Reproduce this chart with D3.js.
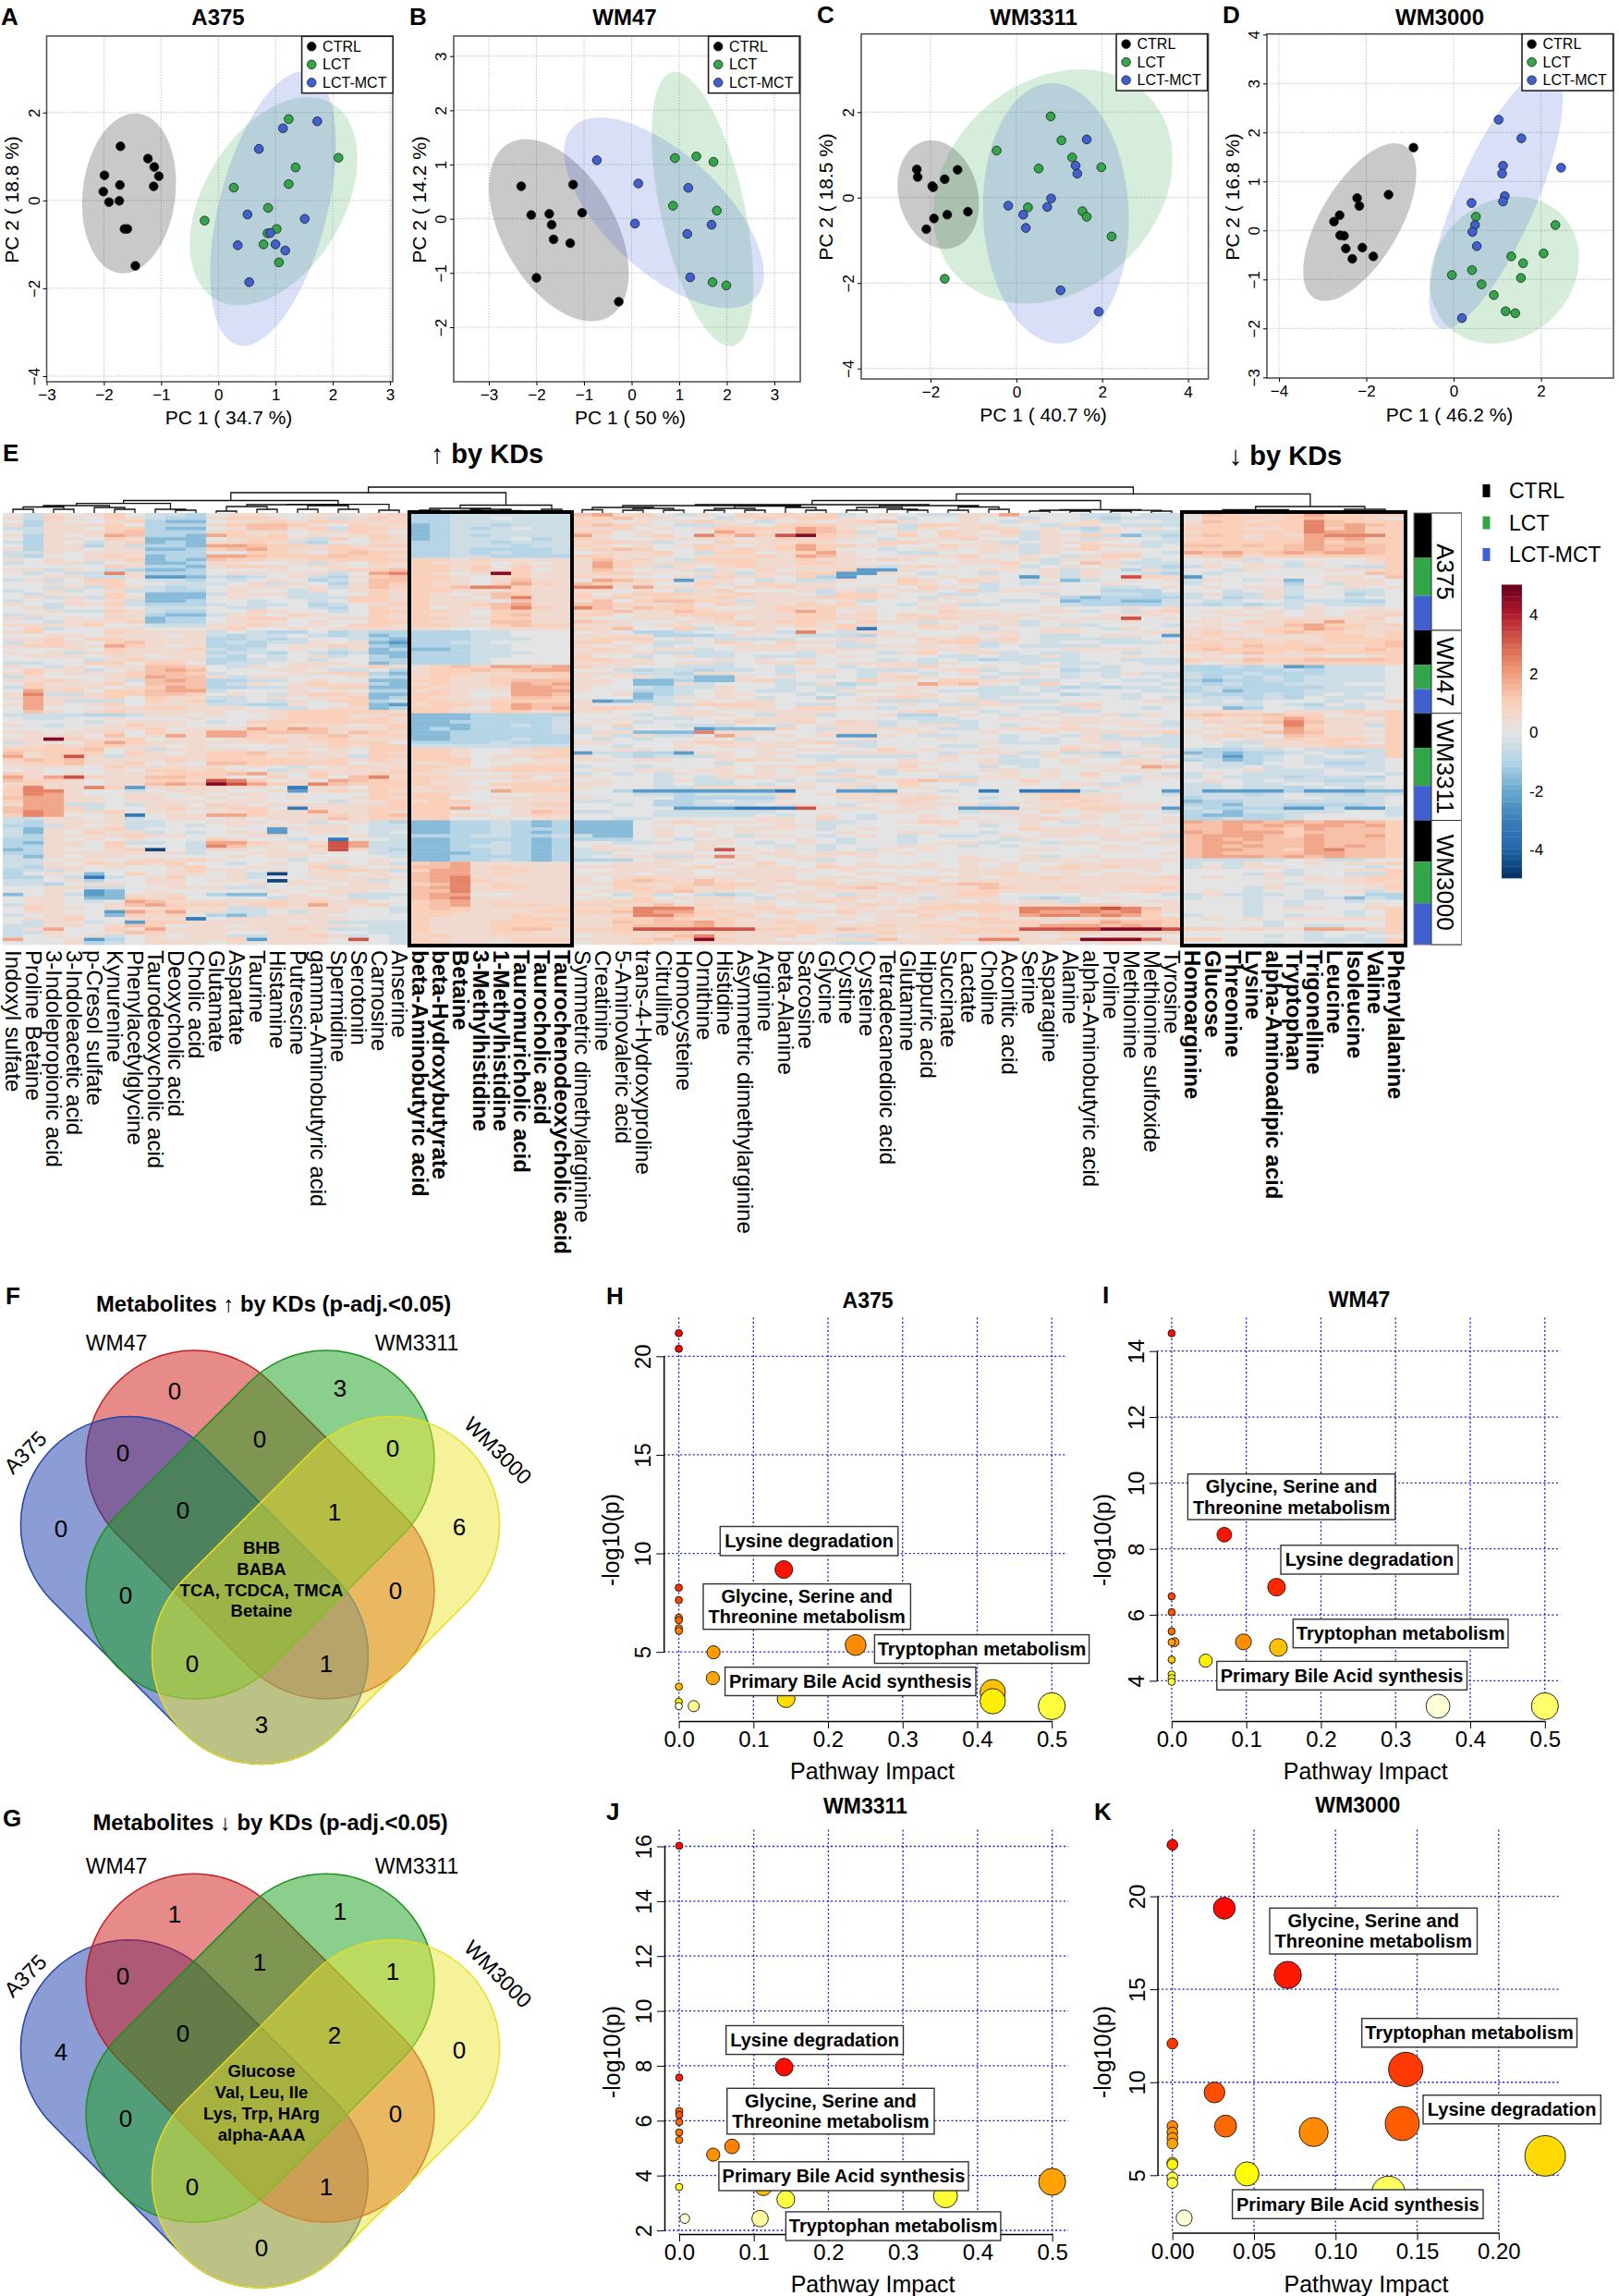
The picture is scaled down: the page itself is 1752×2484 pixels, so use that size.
<!DOCTYPE html>
<html>
<head>
<meta charset="utf-8">
<script src="https://cdn.jsdelivr.net/npm/d3@7"></script>
<style>
  html, body { margin: 0; padding: 0; background: #fff; }
  svg text { font-family: "Liberation Sans", Arial, sans-serif; fill: #000; }
</style>
</head>
<body>
<svg id="fig" width="1752" height="2484"></svg>
<script>
// ---------- PCA data (panel A-D)
var ctrlA = [[-1.71,1.23],[-1.23,.95],[-1.12,.76],[-1.04,.55],[-1.99,.57],[-1.72,.35],[-1.13,.32],[-2.01,.2],[-1.91,-.04],[-1.73,-.01],[-1.64,-.65],[-1.59,-.65],[-1.45,-1.49]];
var lctA = [[1.23,1.85],[2.1,.97],[1.35,.75],[1.23,.37],[.27,.29],[.87,-.17],[-.24,-.46],[1.02,-.65],[.86,-.75],[.79,-1],[1.06,-1.41]];
var mctA = [[1.73,1.8],[1.13,1.64],[.71,1.17],[.51,-.32],[1.51,-.42],[.91,-.74],[.34,-1.02],[1,-1],[1.17,-1.14],[.54,-1.86]];
var ctrlB = [[-2.32,.6],[-1.23,.63],[-2.11,.07],[-1.73,.09],[-1.04,.11],[-1.68,-.11],[-1.64,-.38],[-1.29,-.45],[-2,-1.09],[-.27,-1.53]];
var lctB = [[.91,1.12],[1.36,1.15],[1.72,1.05],[.87,.24],[1.79,.15],[1.7,-1.17],[1.99,-1.23]];
var mctB = [[-.73,1.08],[.14,.65],[1.19,.57],[.07,-.09],[1.68,-.11],[1.17,-.28],[1.23,-1.08]];
var ctrlC = [[-2.32,.66],[-2.3,.48],[-1.37,.65],[-1.67,.43],[-1.96,.27],[-1.94,.24],[-1.61,-.4],[-1.13,-.33],[-1.92,-.49],[-2.1,-.74]];
var lctC = [[.8,1.9],[1.05,1.34],[-.46,1.1],[1.3,.94],[.52,.68],[1.98,.71],[.27,-.23],[1.54,-.32],[1.64,-.45],[2.22,-.91],[-1.67,-1.9]];
var mctC = [[1.64,1.36],[1.38,.75],[1.42,.56],[.81,-.02],[-.19,-.19],[.72,-.22],[.16,-.4],[.22,-.71],[1.03,-2.17],[1.92,-2.67]];
var ctrlD = [[-.92,1.69],[-1.49,.73],[-2.21,.66],[-2.16,.5],[-2.61,.31],[-2.74,.18],[-2.6,-.1],[-2.51,-.11],[-2.47,-.37],[-2.09,-.35],[-1.84,-.53],[-2.32,-.58]];
var lctD = [[.51,.28],[2.33,.11],[2.06,-.47],[1.32,-.53],[1.59,-.67],[.42,-.81],[-.04,-.91],[1.54,-.97],[.64,-1.1],[.92,-1.32],[1.19,-1.65],[1.41,-1.69]];
var mctD = [[1.03,2.26],[1.55,1.88],[1.13,1.32],[1.11,1.16],[2.46,1.28],[1.17,.7],[1.13,.59],[.41,.56],[.49,.11],[.43,-.03],[.53,-.32],[.19,-1.79]];
// confidence ellipses: cx, cy, sd x, sd y, correlation
var ellA = [[-1.56,.16,.82,1.82,.13],[.966,-.02,1.464,2.369,.41],[.956,-.19,1.1,3.12,.47]];
var ellB = [[-1.53,-.21,1.47,1.68,-.47],[1.49,.18,1.07,2.53,-.54],[.68,.11,2.1,1.76,-.64]];
var ellC = [[-1.82,.07,.95,1.27,-.17],[.85,.26,2.79,2.74,.23],[.92,-.37,1.7,3.05,-.05]];
var ellD = [[-2.15,.17,1.295,1.61,.62],[1.16,-.81,1.71,1.5,.16],[.97,.64,1.53,2.65,.77]];
var groupNames = ["CTRL","LCT","LCT-MCT"];

// ---------- heatmap
var metabolites = ["Indoxyl sulfate","Proline Betaine","3-Indolepropionic acid","3-Indoleacetic acid","p-Cresol sulfate","Kynurenine","Phenylacetylglycine","Taurodeoxycholic acid","Deoxycholic acid","Cholic acid","Glutamate","Aspartate","Taurine","Histamine","Putrescine","gamma-Aminobutyric acid","Spermidine","Serotonin","Carnosine","Anserine",
"beta-Aminobutyric acid","beta-Hydroxybutyrate","Betaine","3-Methylhistidine","1-Methylhistidine","Tauromuricholic acid","Taurocholic acid","Taurochenodeoxycholic acid",
"Symmetric dimethylarginine","Creatinine","5-Aminovaleric acid","trans-4-Hydroxyproline","Citrulline","Homocysteine","Ornithine","Histidine","Asymmetric dimethylarginine","Arginine","beta-Alanine","Sarcosine","Glycine","Cystine","Cysteine","Tetradecanedioic acid","Glutamine","Hippuric acid","Succinate","Lactate","Choline","Aconitic acid","Serine","Asparagine","Alanine","alpha-Aminobutyric acid","Proline","Methionine","Methionine sulfoxide","Tyrosine",
"Homoarginine","Glucose","Threonine","Lysine","alpha-Aminoadipic acid","Tryptophan","Trigonelline","Leucine","Isoleucine","Valine","Phenylalanine"];
var boldUp = [20,27], boldDown = [58,68];
var cellLines = ["A375","WM47","WM3311","WM3000"];
var cellLineCounts = [[13,11,10],[10,7,7],[10,11,10],[12,12,12]];
// each row is one sample, one character per metabolite, four column zones split by |
var levelValues = {"0":-4.6,"1":-3.2,"2":-2.3,"3":-1.6,"4":-1,"5":-.5,"6":0,"7":.5,"8":1,"9":1.3,"a":1.8,"b":2.4,"c":3.2,"d":4.6};
var heatRows = [
"65767 86554 67766 77678|4455 5555|9a786 57687 87856 76557 7a666 55655|79878 8a8888",
"75876 87544 78876 75787|4455 6555|78977 66578 78876 65667 66566 54555|68887 89887",
"64766 78433 67787 88778|4455 5555|87676 78765 67678 97667 65766 75665|79878 8b9888",
"74777 86444 78998 76877|3455 4555|89876 55776 88877 65887 76657 76555|78888 8b9a98",
"55776 88433 67997 85887|3454 5655|77867 67888 8a976 75767 87675 47676|88877 8b8a88",
"65777 89444 78776 77876|3455 5555|88676 66a87 7a985 67687 68576 57655|78888 8baa88",
"74767 a9443 a8786 76787|3454 5555|a7678 6b8a8 cd877 68687 77577 85354|89878 7abbb8",
"64776 87333 67887 58687|3455 5645|87667 77767 87876 56778 66576 57665|78878 8a9a88",
"54765 78343 77875 46677|4455 4555|78875 66877 78766 88766 75677 76655|88888 8a8988",
"64774 75443 aa988 78788|4455 5455|87676 78767 8a887 76687 77576 87756|99898 9a9998",
"74776 77334 89a87 78877|4454 4445|78986 68787 8a866 56776 77577 86666|88888 9a9a98",
"55767 77444 66887 68988|4454 5445|67778 65886 78a76 65566 76576 67765|a9a89 a9aa98",
"54667 87344 aa988 89887|4455 4444|88777 67778 7a976 67778 66765 78866|78978 888888",
"76767 78343 98877 88888|8878 7777|79786 58887 78777 87667 76757 77656|66756 666678",
"56775 67334 77667 57687|8777 6767|7a877 77887 78876 66667 78656 97555|67676 576678",
"66666 87443 78876 77677|8878 6877|7a875 76787 77777 57876 67567 67654|57677 576558",
"77576 54334 66676 67889|8878 7867|79767 75768 67782 27666 77675 76475|66576 667778",
"65655 b7444 67767 756ab|8767 d877|78876 67757 78822 76566 56675 76654|65666 666698",
"66775 57223 54567 54789|8876 7877|87766 75877 68426 67676 76275 76c87|26666 667769",
"57568 86554 65676 45699|8876 7977|6a987 27765 65576 68768 76563 56767|57657 367776",
"66767 86655 56757 64798|8776 8a87|98776 68768 77766 68767 56576 67666|56666 465776",
"66575 87545 67776 75798|889b b877|bb7a7 77687 87767 76876 56666 65567|67677 576767",
"56756 75544 67665 76787|8877 7877|77676 57866 67575 67768 57776 64446|66567 566556",
"65766 86333 57775 56687|8767 9877|86788 87787 76588 76655 66656 65545|57557 566456",
"67575 87333 67665 55887|8776 9b77|87878 77877 77888 76576 66674 34444|56457 466566",
"56676 75334 66566 56887|8777 6977|79689 98757 77675 66767 65563 44335|65566 555446",
"76577 85444 56556 45678|8778 9a77|99877 86877 78786 65675 56665 44445|54545 565556",
"67566 76555 65566 54687|8677 9b87|b9798 87667 87877 66776 66676 66767|66676 576676",
"66755 87544 66876 65688|8876 8877|78977 98777 8a867 66687 76677 56578|67767 676777",
"57666 77433 57768 76687|8776 8977|88677 88877 78878 68777 77766 67776|66777 676778",
"75676 87344 67886 67787|8877 8877|76677 67867 78877 67887 77676 77c67|67667 777786",
"66577 78344 67776 76688|8776 9977|98766 77787 88768 77567 67567 66766|77687 87a776",
"77778 66555 77876 76887|8877 8988|77767 76787 78787 66876 77565 56665|67777 9a8878",
"68566 77666 78667 67777|7766 7777|87966 85667 67781 66776 56677 65766|77678 8a9877",
"78666 87777 56544 64544|4445 5666|67644 56677 5b657 76666 77677 66677|78778 988778",
"66776 77767 54556 54534|4445 5666|77774 44576 65554 77667 67655 67762|78767 778878",
"77868 87777 44545 66543|4445 5566|78886 76555 56677 66878 78655 55566|87887 778888",
"57876 89777 45455 76732|4455 6666|88675 56876 87757 66788 57656 65557|78787 878889",
"78877 a8767 44467 78743|4445 5666|76765 66677 76655 77767 56555 56666|88798 887789",
"66676 87778 54567 65734|3345 5666|78767 75677 77777 66777 66667 77766|89888 898898",
"76757 87777 45546 54533|4445 5566|77775 55566 65766 57867 75655 66567|77898 788888",
"67776 77677 54656 75643|4445 5666|86656 75565 55676 66655 65575 66766|67677 776678",
"66665 78777 44556 56644|4445 6666|88776 66767 67666 56565 45555 66555|87798 899998",
"55668 86886 45567 77634|4445 6666|77776 77567 78677 77576 66565 56655|76787 888888",
"76576 77998 65767 76787|7898 aa9a|87766 55566 56656 77866 76675 65666|44545 235556",
"68775 679a9 66677 65564|7889 89aa|66545 54556 57765 55678 56764 55666|44444 545556",
"78677 78998 56667 78843|7887 7888|77755 47766 56765 76567 65565 65755|54454 445556",
"57666 78a99 75776 66754|7877 8778|76775 53376 76565 78766 56765 65665|54545 455556",
"77876 759a9 44556 76633|8877 8999|77633 43378 56668 77688 77556 66556|43445 455556",
"68777 86999 45767 87743|7877 8a9a|77633 75666 55745 66a89 76586 56665|54544 555666",
"58777 678a9 44557 78833|8777 7aa9|76654 55766 56556 67766 55654 54556|45444 445556",
"6a786 889aa 56667 67644|7876 7aaa|76644 56765 56577 77655 55656 66655|45344 455556",
"7b557 88998 67657 88733|8876 6aa9|66734 56776 65656 67766 55564 56566|54445 456566",
"7a777 86877 55676 77834|8776 7998|66635 76765 66467 78767 56666 66565|55545 465556",
"6a755 56878 45657 68845|8877 8888|72345 67677 66767 55567 75556 66677|65656 665668",
"7a767 86777 55447 66832|7887 8a99|76675 58887 65566 67655 77667 86666|55556 546566",
"6a666 77887 77655 67734|8876 8a9a|78876 76777 68877 56677 66555 76656|66346 655566",
"69767 87777 76778 88887|8877 8878|77666 77667 77766 67876 56665 56666|77776 777878",
"55554 45776 76678 88778|3334 4444|66656 77765 77566 74467 65676 67576|89889 886788",
"65566 76667 66678 88787|3334 4445|66765 56677 77666 65556 67767 76666|77778 a87768",
"66665 67776 56888 88887|3344 4445|67656 66787 78687 56555 66677 77765|68789 b97778",
"76566 78776 66787 77678|3334 4545|76866 55566 56777 56775 65667 66775|66767 b87758",
"66667 77867 77a8a 97778|3434 4445|56566 62333 86577 77655 67878 76666|67787 a87768",
"77677 86877 aa899 97987|3344 4445|57733 3b777 66777 67766 76676 77778|76779 a97778",
"67776 967a7 aa877 89788|3344 4444|67575 56a76 76722 76556 65665 75765|67876 987768",
"77d87 78677 67887 88777|3344 4544|65656 67656 67667 66676 65656 75555|67677 878878",
"57668 a8777 77787 78886|4444 5444|77666 78877 77855 66666 75556 77655|66557 788768",
"77878 87767 66667 78788|5555 5555|66566 76777 76675 66655 66667 67675|66567 778888",
"88889 67577 77677 67688|8876 6788|66776 76667 67766 86766 76668 77666|54455 655558",
"97888 68767 88978 77687|8876 6778|25544 27767 76677 77657 77575 54777|34344 565458",
"a78c7 57777 88877 77588|8876 7788|76545 55767 65555 55676 65676 75565|54245 656658",
"89897 77787 88888 78787|8886 7677|77677 66787 76566 67676 75567 66776|45345 655556",
"78897 78676 99888 88677|7786 6777|66666 66566 66776 67766 75567 66877|65546 654456",
"77776 87777 76765 67877|8876 7888|56656 66767 78777 78666 56566 776a9|65565 665556",
"67666 76887 87657 77778|8777 8888|67677 67767 67656 57766 77676 67776|66675 556556",
"87676 77788 89a76 87788|7766 6777|56565 76767 67576 56676 67676 86665|57655 556665",
"a7ac8 77998 86686 869b7|8877 7867|76665 65787 76778 66655 77676 76577|56555 455546",
"98876 77887 cb867 6a988|8776 6778|67665 75566 56556 78988 66866 66566|67656 554456",
"78776 779a9 dca87 b9888|8776 8887|77665 65565 67677 68665 66767 75766|55655 665566",
"8b77b 82777 77761 77688|7877 7888|76665 57777 77675 67766 66667 67666|55655 456556",
"8bb76 65677 76672 78787|7776 a888|66422 22222 16622 26656 16111 56662|52222 422233",
"8ba76 67767 67766 66688|8876 6677|66655 45555 76777 87766 66788 77665|55545 655455",
"9aa77 67766 76767 66787|8866 7777|76666 44444 76677 67876 56688 77666|45555 665556",
"8aa77 67777 67766 65678|7886 6777|55664 45655 66667 78766 66777 87666|34455 555556",
"7aa55 65776 87677 77778|8877 7788|66564 45556 77656 67777 57678 77776|44355 444456",
"9aa85 66787 78861 77788|88a7 6777|66666 22211 1c777 67762 22777 88772|54444 225225",
"9ba77 86776 77877 a7787|8866 6798|55665 55555 66666 77665 77686 77665|45355 555665",
"8ba66 71677 aa877 78789|8877 6787|66665 55556 56765 66766 67766 76766|43344 566665",
"55776 75677 67677 79788|8866 7677|66556 66667 76865 66767 66787 76767|44544 566666",
"54777 75566 77767 56754|3344 5434|33367 87777 76556 67886 76765 66667|a9aa9 a9aa98",
"44576 75565 67676 77655|3344 5434|33366 67666 77566 66676 56766 76776|99a9a 9aa9a8",
"53777 85666 66627 77655|3344 5444|33367 66677 76567 66666 66877 77666|99a99 8a9998",
"53768 77565 67726 77656|3344 5434|33367 67676 66676 67766 56677 77677|a9aaa 899998",
"54777 78776 66776 66755|4445 5445|53367 67657 76567 65655 67677 67775|9aaa9 8a99a8",
"44767 67666 87665 61665|3344 4434|44466 56766 67656 65666 65766 67767|9a9a9 9a9998",
"43776 85565 aa877 7ca55|3344 5434|66557 67765 67656 65677 56657 76677|9aa99 9a9998",
"44776 86665 b9776 8ca55|3345 5434|67666 67666 56566 67765 65666 67666|9a9a9 9a9a98",
"34766 78065 77676 7c754|3344 5434|57766 67c76 76565 76766 66776 67766|9aa99 8ab998",
"44777 77775 66777 76655|3334 5434|55667 76667 76787 67666 66666 66667|9a999 9aa998",
"53767 76666 67677 66665|3344 4434|56775 57b76 77767 66667 66756 76666|9aaa9 a9a998",
"55677 67878 76665 67676|3344 5434|44467 76676 67566 66667 76777 67777|55555 675566",
"55768 78786 65676 77675|89a7 7777|66777 66768 66767 66767 67667 77776|56576 676778",
"54776 76678 66766 85767|99a7 8777|77777 78677 76877 77767 67678 78776|57577 666656",
"45576 66678 77676 78875|8aa7 7877|66776 76777 77676 66677 77677 76676|66666 566778",
"46763 68677 67506 77676|9aa7 8777|67767 76677 76667 76667 78767 67766|66657 566558",
"44651 56786 67566 77777|9ab7 7777|76787 77777 76776 67777 67787 77778|67667 676788",
"55674 66776 77607 67756|9ab8 7777|76898 79767 87767 67867 77777 77777|66666 677787",
"55467 76776 66767 76776|89b7 8777|77877 89887 68877 86789 97777 77777|66667 566778",
"66775 56677 75566 67776|9ab7 8877|66887 87877 76789 78777 98778 77888|66657 666678",
"66762 36766 66676 77766|99b7 7777|67788 97767 67777 77778 87777 77787|67656 656757",
"36752 37776 43367 67555|9aa6 6777|76575 65456 77657 67678 86666 76665|57555 656644",
"67763 38786 66657 76556|9ab7 7777|67686 77765 77787 76577 76545 67666|56656 655354",
"67765 6a977 77787 87866|89a7 7777|77887 67767 67876 76776 76775 66677|66656 566566",
"57766 79a88 87887 a7786|89a7 8887|88779 78777 66678 77788 87777 88767|66656 566676",
"68776 77787 75577 77665|8987 7778|778bb b7778 77677 67888 88bbb bcb97|66656 776678",
"67766 2a8a7 75565 77665|8887 7788|889ba a8877 87787 78777 87baa bab87|66656 666568",
"56776 38786 43577 76666|8877 7877|777bb 98786 76676 76876 77abb aba86|56656 566568",
"67786 67771 67777 77666|8777 7888|77889 87877 76776 77768 87776 78788|67676 777778",
"65775 62887 77776 75555|8777 8887|77989 9a877 87767 77777 88878 8a998|66665 666668",
"55776 79867 76777 77655|8777 8888|77899 9a877 78777 87887 778aa a9a98|66665 655668",
"57a66 87a77 77778 75555|8777 8997|888cc cccc8 88798 77778 88ccc cdddc|88787 7aa988",
"55766 79877 76677 76655|8777 8877|77878 87877 78777 87778 78778 87788|66666 656658",
"56767 56767 75577 87565|7877 7777|67777 9b777 86655 76776 77767 67766|66665 656566",
"a6672 46777 78277 76c65|8777 7888|77789 8d877 66778 97788 bb778 dddb7|88666 655558",
"66674 56777 67677 76665|8877 6777|67787 67777 77655 67776 76776 67767|66665 665658"
];

// dendrogram: [height above heatmap, left, right], 0 is one leaf, left to right
var tree = [28,
  [22,
    [13.5,
      [10.4,
        [8,[6.5,[4,0,0],[4,0,0]],[6,0,[4,0,0]]],
        [4,0,[3,0,0]]],
      [9.3,
        [9,[7,[2,0,0],[4,0,0]],[8,[4,0,0],[4,0,0]]],
        [3,0,0]]],
    [8.5,[5,[3,0,0],[4,[2.5,0,0],[2.5,0,0]]],[4,0,0]]],
  [20.7,
    [13.5,
      [9,
        [8,[6,[3.5,0,0],[5,[3,0,0],[3,0,0]]],[7.5,[5,[3,0,0],[3,0,0]],[6,0,[3,0,0]]]],
        [8,[6,[3,0,0],[4,0,[3,0,0]]],[6.5,[3,0,0],[4,0,0]]]],
      [3.5,[3,[2,0,0],[2,0,0]],[2.8,[2,0,0],[2,0,0]]]],
    [7,[3.5,[2,[1.5,0,0],[1.5,0,0]],[2,0,[1.5,0,0]]],[4,[2,0,0],[2,0,0]]]]];

// ---------- Venn
var vennLabels = ["A375","WM47","WM3311","WM3000"];
var vennUp = [0,3,0,0,0,0,0,1,6,0,0,0,1,3];
var vennDown = [1,1,0,1,1,4,0,2,0,0,0,0,1,0];
var vennUpCore = ["BHB","BABA","TCA, TCDCA, TMCA","Betaine"];
var vennDownCore = ["Glucose","Val, Leu, Ile","Lys, Trp, HArg","alpha-AAA"];

// ---------- pathway bubbles: impact, -log10(p), colour rank 0 (red) .. 1 (pale)
var impactH = [0,0,.1407,0,0,0,0,0,0,.0465,.237,.0456,0,0,0,.02,.1438,.4208,.4208,.5];
var logpH = [21.17,20.38,9.18,8.26,7.63,6.74,6.61,6.2,6.07,4.98,5.35,3.67,3.24,2.47,2.25,2.25,2.63,2.96,2.5,2.25];
var rankH = [0,.01,.05,.13,.18,.28,.26,.33,.33,.4,.36,.43,.47,.6,.98,.88,.57,.5,.62,.75];
var impactI = [0,.0705,.1405,0,0,0,.004,0,.0962,.143,.0456,0,0,0,0,.3568,.5];
var logpI = [14.54,8.43,6.84,6.56,6.08,5.5,5.17,5.17,5.18,5.01,4.61,4.64,4.19,4.08,3.97,3.23,3.23];
var rankI = [.03,.05,.1,.18,.22,.28,.36,.43,.37,.5,.62,.52,.68,.72,.75,.98,.82];
var impactJ = [0,.1407,0,0,0,0,0,0,.0708,.0456,0,.1128,.1429,.357,.5,.1084,.0075];
var logpJ = [16.02,7.95,7.57,6.35,6.21,5.95,5.57,5.29,5.06,4.76,3.58,3.57,3.13,3.26,3.77,2.43,2.43];
var rankJ = [.02,.03,.07,.25,.2,.25,.3,.33,.33,.37,.7,.5,.76,.74,.42,.9,.98];
var impactK = [0,.0318,.0707,0,.143,.0258,.1409,.0326,.0866,0,0,0,0,.2285,0,0,.0457,0,0,.1324,.0072];
var logpK = [22.77,19.36,15.77,12.08,10.69,9.45,7.78,7.64,7.32,7.64,7.3,7,6.7,6.04,5.67,5.58,5.07,4.88,4.58,4.05,2.7];
var rankK = [.02,.02,.06,.14,.15,.2,.24,.27,.36,.35,.38,.4,.42,.56,.6,.64,.66,.76,.78,.8,.98];

// ---------- drawing
var svg = d3.select("#fig");
var groupColors = ["#000000","#33a64a","#4060d0"];

function panelLetter(t, x, y) {
  svg.append("text").attr("x", x).attr("y", y).attr("font-size", 26).attr("font-weight", "bold").text(t);
}
function label(t, x, y, size, bold, rot) {
  var s = svg.append("text").attr("text-anchor", "middle").attr("font-size", size).text(t);
  if (bold) s.attr("font-weight", "bold");
  s.attr("transform", "translate(" + x + "," + y + ")" + (rot ? " rotate(" + rot + ")" : ""));
  return s;
}

// PCA panels
var pcaPanels = [
  {title:"A375", L:"A", lx:1, ly:27, tx:236, box:[50.5,425,39,413], xd:[-3,3], xr:[50.5,422], yd:[2,-4], yr:[121.7,407], xt:[-3,-2,-1,0,1,2,3], yt:[-4,-2,0,2], xl:"PC 1 ( 34.7 %)", yl:"PC 2 ( 18.8 %)", xlx:247.5, xly:459, ylx:20, yly:216, d:[ctrlA,lctA,mctA], e:ellA, leg:[326.6,39.3]},
  {title:"WM47", L:"B", lx:443, ly:27, tx:676, box:[491,866,39,413], xd:[-3,3], xr:[529,838], yd:[3,-2], yr:[60.7,354], xt:[-3,-2,-1,0,1,2,3], yt:[-2,-1,0,1,2,3], xl:"PC 1 ( 50 %)", yl:"PC 2 ( 14.2 %)", xlx:682, xly:459, ylx:461, yly:216, d:[ctrlB,lctB,mctB], e:ellB, leg:[766.6,39.3]},
  {title:"WM3311", L:"C", lx:884, ly:25, tx:1118.6, box:[932,1307.6,36.7,410], xd:[-2,4], xr:[1007,1285.6], yd:[2,-4], yr:[121.3,398.7], xt:[-2,0,2,4], yt:[-4,-2,0,2], xl:"PC 1 ( 40.7 %)", yl:"PC 2 ( 18.5 %)", xlx:1129, xly:456, ylx:901, yly:213, d:[ctrlC,lctC,mctC], e:ellC, leg:[1208,36.7]},
  {title:"WM3000", L:"D", lx:1323, ly:25, tx:1558, box:[1371,1746,36.7,409], xd:[-4,2], xr:[1384,1667.6], yd:[4,-3], yr:[37.3,408.3], xt:[-4,-2,0,2], yt:[-3,-2,-1,0,1,2,3,4], xl:"PC 1 ( 46.2 %)", yl:"PC 2 ( 16.8 %)", xlx:1568.5, xly:456, ylx:1341, yly:213, d:[ctrlD,lctD,mctD], e:ellD, leg:[1647,36.7]}
];

pcaPanels.forEach(function(p, pi) {
  var x = d3.scaleLinear().domain(p.xd).range(p.xr);
  var y = d3.scaleLinear().domain(p.yd).range(p.yr);
  var g = svg.append("g");
  panelLetter(p.L, p.lx, p.ly);
  label(p.title, p.tx, 27, 24, true);

  g.selectAll(".gx").data(p.xt).enter().append("line")
    .attr("x1", function(d){return x(d)}).attr("x2", function(d){return x(d)})
    .attr("y1", p.box[2]).attr("y2", p.box[3])
    .attr("stroke", "#c4c4c4").attr("stroke-dasharray", "1.5,1.5");
  g.selectAll(".gy").data(p.yt).enter().append("line")
    .attr("y1", function(d){return y(d)}).attr("y2", function(d){return y(d)})
    .attr("x1", p.box[0]).attr("x2", p.box[1])
    .attr("stroke", "#c4c4c4").attr("stroke-dasharray", "1.5,1.5");

  var clip = "pca" + pi;
  svg.append("clipPath").attr("id", clip).append("rect")
    .attr("x", p.box[0]).attr("y", p.box[2]).attr("width", p.box[1]-p.box[0]).attr("height", p.box[3]-p.box[2]);
  var ts = d3.range(0, 6.3, .08);
  var line = d3.line().x(function(d){return x(d[0])}).y(function(d){return y(d[1])}).curve(d3.curveLinearClosed);
  g.append("g").attr("clip-path", "url(#" + clip + ")").selectAll("path").data(p.e).enter().append("path")
    .attr("d", function(e) {
      return line(ts.map(function(t){ return [e[0]+e[2]*Math.cos(t), e[1]+e[3]*Math.cos(t-Math.acos(e[4]))]; }));
    })
    .attr("fill", function(d,i){return groupColors[i]})
    .attr("fill-opacity", function(d,i){return i==0 ? .21 : .2});

  p.d.forEach(function(pts, gi) {
    g.selectAll(".p" + gi).data(pts).enter().append("circle").attr("class", "p" + gi)
      .attr("cx", function(d){return x(d[0])}).attr("cy", function(d){return y(d[1])})
      .attr("r", 4.8).attr("fill", groupColors[gi]).attr("stroke", "#1a1a1a").attr("stroke-width", .8);
  });

  g.append("rect").attr("x", p.box[0]).attr("y", p.box[2]).attr("width", p.box[1]-p.box[0]).attr("height", p.box[3]-p.box[2])
    .attr("fill", "none").attr("stroke", "#555").attr("stroke-width", 1.6);

  var ax = g.append("g").attr("transform", "translate(0," + p.box[3] + ")")
    .call(d3.axisBottom(x).tickValues(p.xt).tickFormat(d3.format("d")).tickSize(4).tickPadding(4));
  ax.select(".domain").remove();
  ax.selectAll("text").attr("font-size", 17);
  var ay = g.append("g").attr("transform", "translate(" + p.box[0] + ",0)")
    .call(d3.axisLeft(y).tickValues(p.yt).tickFormat(d3.format("d")).tickSize(4));
  ay.select(".domain").remove();
  ay.selectAll("text").attr("font-size", 17).attr("transform", "rotate(-90)")
    .attr("x", 0).attr("y", -8).attr("dy", 0).attr("text-anchor", "middle");

  label(p.xl, p.xlx, p.xly, 21);
  label(p.yl, p.ylx, p.yly, 21, false, -90);

  var lg = g.append("g").attr("transform", "translate(" + p.leg[0] + "," + p.leg[1] + ")");
  lg.append("rect").attr("width", 98.6).attr("height", 61.4).attr("fill", "#fff").attr("stroke", "#222").attr("stroke-width", 1.6);
  var ly = d3.scalePoint().domain(groupNames).range([11, 50]);
  groupNames.forEach(function(n, i) {
    lg.append("circle").attr("cx", 10.6).attr("cy", ly(n)).attr("r", 4.8).attr("fill", groupColors[i]).attr("stroke", "#1a1a1a").attr("stroke-width", .8);
    lg.append("text").attr("x", 22.5).attr("y", ly(n) + 5.5).attr("font-size", 16).text(n);
  });
});

// heatmap
var colX = d3.scaleBand().domain(d3.range(metabolites.length)).range([3, 1521]);
var totalRows = heatRows.length;
var rowY = d3.scaleBand().domain(d3.range(totalRows)).range([555, 1022]);
var heatColor = d3.scaleLinear()
  .domain([-5,-4,-3,-2,-1,0,1,2,3,4,5])
  .range(["#053061","#2166ac","#3a7fb9","#6aa9d0","#b5d5e7","#e4e4e4","#fbd0bb","#ef9c7c","#d6604d","#b2182b","#67001f"]);
var zoneStart = [0,20,28,58], zoneLen = [20,8,30,11];
var cells = [];
heatRows.forEach(function(r, ri) {
  r.split("|").slice(0,4).forEach(function(z, zi) {
    z.replace(/ /g,"").slice(0, zoneLen[zi]).split("").forEach(function(c, ci) {
      cells.push({r: ri, c: zoneStart[zi] + ci, v: levelValues[c]});
    });
  });
});
svg.append("rect").attr("x", colX.range()[0]).attr("y", 555).attr("width", 1518).attr("height", 467).attr("fill", "#e4e4e4");
svg.append("g").selectAll("rect").data(cells).enter().append("rect")
  .attr("x", function(d){return colX(d.c)}).attr("y", function(d){return rowY(d.r)})
  .attr("width", colX.bandwidth()+.3).attr("height", rowY.bandwidth()+.3)
  .attr("fill", function(d){return heatColor(d.v)});

label("↑ by KDs", 527, 501, 29, true);
label("↓ by KDs", 1391, 503, 29, true);
panelLetter("E", 3, 499);

// dendrogram
var leaf = 0, dg = d3.path();
function walk(n) {
  if (n === 0) { var cx = colX(leaf) + colX.bandwidth()/2; leaf++; return {x: cx, y: 555}; }
  var a = walk(n[1]), b = walk(n[2]), h = 555 - n[0];
  dg.moveTo(a.x, a.y); dg.lineTo(a.x, h); dg.lineTo(b.x, h); dg.lineTo(b.x, b.y);
  return {x: (a.x+b.x)/2, y: h};
}
walk(tree);
svg.append("path").attr("d", dg.toString()).attr("fill", "none").attr("stroke", "#111").attr("stroke-width", 1.3);

// column labels
svg.append("g").selectAll("text").data(metabolites).enter().append("text")
  .attr("transform", function(d,i){ return "translate(" + (colX(i)+colX.bandwidth()/2-8.5) + ",1028) rotate(90)"; })
  .attr("font-size", 24)
  .attr("font-weight", function(d,i){ return (i>=boldUp[0]&&i<=boldUp[1])||(i>=boldDown[0]&&i<=boldDown[1]) ? "bold" : "normal"; })
  .text(function(d){return d});

// highlight boxes
[boldUp, boldDown].forEach(function(b) {
  svg.append("rect").attr("x", colX(b[0])).attr("y", 554).attr("width", colX.bandwidth()*(b[1]-b[0]+1)).attr("height", 469)
    .attr("fill", "none").attr("stroke", "#000").attr("stroke-width", 4);
});

// annotation strip
var rowPos = 0;
cellLines.forEach(function(name, li) {
  var start = rowPos;
  cellLineCounts[li].forEach(function(n, gi) {
    svg.append("rect").attr("x", 1530).attr("y", rowY(rowPos)).attr("width", 19).attr("height", rowY.bandwidth()*n).attr("fill", groupColors[gi]);
    rowPos += n;
  });
  var y0 = rowY(start), y1 = rowY(rowPos-1) + rowY.bandwidth();
  svg.append("rect").attr("x", 1549).attr("y", y0).attr("width", 32.5).attr("height", y1-y0)
    .attr("fill", "#fff").attr("stroke", "#333").attr("stroke-width", 1);
  svg.append("text").attr("text-anchor", "middle").attr("font-size", 26)
    .attr("transform", "translate(1555," + ((y0+y1)/2) + ") rotate(90)").text(name);
});
svg.append("rect").attr("x", 1530).attr("y", 555).attr("width", 51.5).attr("height", 467).attr("fill", "none").attr("stroke", "#777").attr("stroke-width", 1);

// group legend
var legY = d3.scalePoint().domain(groupNames).range([531, 600]);
groupNames.forEach(function(n, i) {
  svg.append("rect").attr("x", 1604.5).attr("y", legY(n)-7).attr("width", 8).attr("height", 14).attr("fill", groupColors[i]);
  svg.append("text").attr("x", 1633).attr("y", legY(n)+8).attr("font-size", 23).text(n);
});

// colour bar
var barY = d3.scaleLinear().domain([-5,5]).range([950, 632.5]);
var steps = d3.range(-5, 5, .2);
svg.append("g").selectAll("rect").data(steps).enter().append("rect")
  .attr("x", 1625).attr("width", 22)
  .attr("y", function(d){return barY(d+.2)}).attr("height", barY(0)-barY(.2)+.3)
  .attr("fill", function(d){return heatColor(d+.1)});
[-4,-2,0,2,4].forEach(function(t) {
  svg.append("text").attr("x", 1655).attr("y", barY(t)+7).attr("font-size", 17).text(t);
});

// Venn diagrams
var vennFill = ["#193cad","#cf1515","#179f19","#ebe535"];
var vennStroke = ["#2244aa","#c01e1e","#1a8f1a","#e6de20"];
var vennStadia = [[139.4,1649.5,281.5,1791.6],[210,1578,353,1721],[353,1578,210,1721],[423.6,1649.5,281.5,1791.6]];
var vennR = 117;
var vennSpots = [[189,1505],[368,1502],[133,1572],[281,1557],[425,1567],[66,1654],[198,1634],[362,1636],[497,1652],[136,1726],[428,1721],[208,1800],[353,1800],[283,1866]];

function venn(counts, core, title, titleX, titleY, dy, letter, letterY, order) {
  panelLetter(letter, letter=="F" ? 6 : 3, letterY);
  label(title, titleX, titleY, 23.8, true);
  var g = svg.append("g").attr("transform", "translate(0," + dy + ")");
  order.forEach(function(i) {
    var s = vennStadia[i];
    var mx = (s[0]+s[2])/2, my = (s[1]+s[3])/2;
    var len = Math.hypot(s[2]-s[0], s[3]-s[1]) + 2*vennR;
    var ang = Math.atan2(s[3]-s[1], s[2]-s[0]) * 180/Math.PI;
    g.append("rect").attr("x", -len/2).attr("y", -vennR).attr("width", len).attr("height", 2*vennR).attr("rx", vennR)
      .attr("transform", "translate(" + mx + "," + my + ") rotate(" + ang + ")")
      .attr("fill", vennFill[i]).attr("fill-opacity", .5).attr("stroke", vennStroke[i]).attr("stroke-width", 1.5);
  });
  g.selectAll(".n").data(counts).enter().append("text")
    .attr("text-anchor", "middle").attr("font-size", 26)
    .attr("x", function(d,i){return vennSpots[i][0]}).attr("y", function(d,i){return vennSpots[i][1]+9})
    .text(function(d){return d});
  g.selectAll(".c").data(core).enter().append("text")
    .attr("text-anchor", "middle").attr("font-size", 18.5).attr("font-weight", "bold")
    .attr("x", 283).attr("y", function(d,i){return 1681 + i*22.8})
    .text(function(d){return d});
  [[126,1461,0],[451,1461,0],[33,1577,-45],[533.3,1575,45]].forEach(function(l, i) {
    var n = [1,2,0,3][i];
    g.append("text").attr("text-anchor", "middle").attr("font-size", 23)
      .attr("transform", "translate(" + l[0] + "," + l[1] + ") rotate(" + l[2] + ")").text(vennLabels[n]);
  });
}
venn(vennUp, vennUpCore, "Metabolites ↑ by KDs (p-adj.<0.05)", 296, 1419, 0, "F", 1411, [1,0,2,3]);
venn(vennDown, vennDownCore, "Metabolites ↓ by KDs (p-adj.<0.05)", 292.6, 1980, 566.3, "G", 1976, [0,1,2,3]);

// pathway bubble plots
var heat = d3.scaleLinear().domain([0,.33,.66,1]).range(["#ff0000","#ff8000","#ffff00","#ffffe6"]);
var bubblePanels = [
  {t:"A375", L:"H", lx:656, ly:1411, tx:939, ty:1415, x:[734.6,1138.2], xd:[0,.5], xt:[0,.1,.2,.3,.4,.5], xf:".1f", yd:[5,20], yr:[1787.2,1467.3], yt:[5,10,15,20], ax:718.2, ay:1862, gx:1155, gt:1425.6, labX:944, labY:1925, yLabX:670, yLabY:1666, tickPad:14, rr:[3.9,14.6], rd:.5,
   imp:impactH, lp:logpH, rank:rankH,
   boxes:[[779.3,971.8,1651.5,1683,["Lysine degradation"]],[761,985.4,1713.6,1762.7,["Glycine, Serine and","Threonine metabolism"]],[946.4,1178.6,1768.6,1799.5,["Tryptophan metabolism"]],[784.6,1056,1803.7,1834.5,["Primary Bile Acid synthesis"]]]},
  {t:"WM47", L:"I", lx:1193, ly:1410, tx:1471, ty:1414, x:[1267.9,1671.8], xd:[0,.5], xt:[0,.1,.2,.3,.4,.5], xf:".1f", yd:[4,14], yr:[1818.4,1461.7], yt:[4,6,8,10,12,14], ax:1251.9, ay:1862, gx:1688.6, gt:1425.6, labX:1477.7, labY:1925, yLabX:1202, yLabY:1666, tickPad:14, rr:[3.9,14.6], rd:.5,
   imp:impactI, lp:logpI, rank:rankI,
   boxes:[[1285.4,1509.8,1594.7,1644,["Glycine, Serine and","Threonine metabolism"]],[1386,1578,1671.8,1703,["Lysine degradation"]],[1399.3,1632,1751.8,1782.7,["Tryptophan metabolism"]],[1316.8,1587.5,1797.4,1828.3,["Primary Bile Acid synthesis"]]]},
  {t:"WM3311", L:"J", lx:656, ly:1969, tx:936.4, ty:1962, x:[735,1138.6], xd:[0,.5], xt:[0,.1,.2,.3,.4,.5], xf:".1f", yd:[2,16], yr:[2413,1997.5], yt:[2,4,6,8,10,12,14,16], ax:719, ay:2417, gx:1156, gt:1979.5, labX:944.6, labY:2479.5, yLabX:671.4, yLabY:2220, tickPad:14, rr:[3.9,14.6], rd:.5,
   imp:impactJ, lp:logpJ, rank:rankJ,
   boxes:[[785.7,977.5,2191.5,2222.6,["Lysine degradation"]],[786.8,1011,2259.3,2308.8,["Glycine, Serine and","Threonine metabolism"]],[777.9,1048,2338.8,2370,["Primary Bile Acid synthesis"]],[850.4,1082.9,2392.9,2424,["Tryptophan metabolism"]]]},
  {t:"WM3000", L:"K", lx:1184, ly:1969, tx:1469.3, ty:1961, x:[1268.7,1621.8], xd:[0,.2], xt:[0,.05,.1,.15,.2], xf:".2f", yd:[5,20], yr:[2353.3,2051.6], yt:[5,10,15,20], ax:1252.6, ay:2415.5, gx:1689, gt:1979.5, labX:1478.4, labY:2479.5, yLabX:1202, yLabY:2220, tickPad:14, rr:[5.8,21.9], rd:.2285,
   imp:impactK, lp:logpK, rank:rankK,
   boxes:[[1374,1598.5,2064.3,2114,["Glycine, Serine and","Threonine metabolism"]],[1473.7,1706.5,2183.7,2214.8,["Tryptophan metabolism"]],[1540,1732.3,2266.7,2297.8,["Lysine degradation"]],[1333.6,1605,2369,2400.3,["Primary Bile Acid synthesis"]]]}
];

bubblePanels.forEach(function(p) {
  var x = d3.scaleLinear().domain(p.xd).range(p.x);
  var y = d3.scaleLinear().domain(p.yd).range(p.yr);
  var rad = d3.scaleSqrt().domain([0,p.rd]).range(p.rr);
  var g = svg.append("g");
  panelLetter(p.L, p.lx, p.ly);
  label(p.t, p.tx, p.ty, 23, true);

  p.xt.forEach(function(t) {
    g.append("line").attr("x1", x(t)).attr("x2", x(t)).attr("y1", p.gt).attr("y2", p.ay)
      .attr("stroke", "#1c1cc8").attr("stroke-width", 1.3).attr("stroke-dasharray", "2,2.5");
  });
  p.yt.forEach(function(t) {
    g.append("line").attr("x1", p.ax).attr("x2", p.gx).attr("y1", y(t)).attr("y2", y(t))
      .attr("stroke", "#1c1cc8").attr("stroke-width", 1.3).attr("stroke-dasharray", "2,2.5");
  });

  var ax = g.append("g").attr("transform", "translate(0," + p.ay + ")")
    .call(d3.axisBottom(x).tickValues(p.xt).tickFormat(d3.format(p.xf)).tickSize(8).tickSizeOuter(0).tickPadding(3));
  ax.selectAll("text").attr("font-size", 24);
  ax.select(".domain").attr("stroke-width", 1.5);
  var ay = g.append("g").attr("transform", "translate(" + p.ax + ",0)")
    .call(d3.axisLeft(y).tickValues(p.yt).tickFormat(d3.format("d")).tickSize(8).tickSizeOuter(0));
  ay.selectAll("text").attr("font-size", 24).attr("transform", "rotate(-90)")
    .attr("x", 0).attr("y", -p.tickPad).attr("dy", 0).attr("text-anchor", "middle");
  ay.select(".domain").attr("stroke-width", 1.5);

  g.selectAll("circle").data(p.imp).enter().append("circle")
    .attr("cx", function(d){return x(d)})
    .attr("cy", function(d,i){return y(p.lp[i])})
    .attr("r", function(d){return rad(d)})
    .attr("fill", function(d,i){return heat(p.rank[i])})
    .attr("stroke", "#111").attr("stroke-width", .9);

  p.boxes.forEach(function(b) {
    g.append("rect").attr("x", b[0]).attr("y", b[2]).attr("width", b[1]-b[0]).attr("height", b[3]-b[2])
      .attr("fill", "#fff").attr("stroke", "#333").attr("stroke-width", 1.4);
    var cy = (b[2]+b[3])/2, n = b[4].length;
    b[4].forEach(function(s, i) {
      g.append("text").attr("text-anchor", "middle").attr("font-size", 20).attr("font-weight", "bold")
        .attr("x", (b[0]+b[1])/2).attr("y", cy + 7 + (i-(n-1)/2)*22.6).text(s);
    });
  });

  label("Pathway Impact", p.labX, p.labY, 25);
  label("-log10(p)", p.yLabX, p.yLabY, 25, false, -90);
});
</script>
</body>
</html>
